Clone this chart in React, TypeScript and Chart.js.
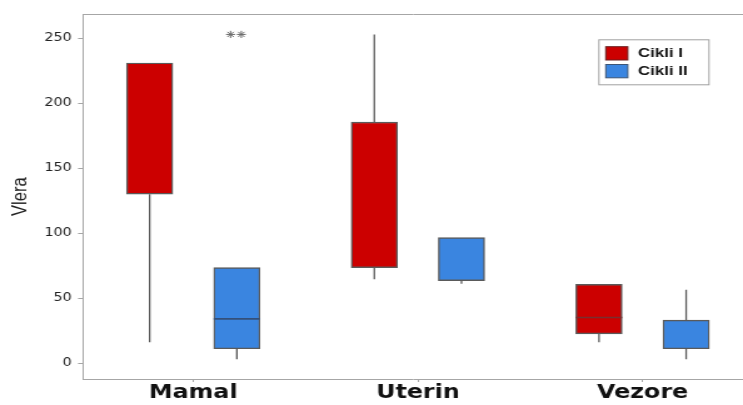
import React, { useEffect, useRef } from 'react';
import { Chart, registerables } from 'chart.js';

Chart.register(...registerables);

// ---- data ----
const categories = ['Mamal', 'Uterin', 'Vezore'];
const seriesNames = ['Cikli I', 'Cikli II'];
const yTickValues = [0, 50, 100, 150, 200, 250];

// Cikli I
const c1Min = [16, 64.5, 16];
const c1Q1 = [130, 73.5, 22.5];
const c1Median: (number | null)[] = [null, null, 35];
const c1Q3 = [231, 185.5, 60.5];
const c1Max = [231, 253, 60.5];
const c1Outliers: number[][] = [[], [], []];

// Cikli II
const c2Min = [3, 61, 3];
const c2Q1 = [11, 63.5, 11];
const c2Median: (number | null)[] = [34, null, null];
const c2Q3 = [73.5, 96.5, 33];
const c2Max = [73.5, 96.5, 56.5];
const c2Outliers: number[][] = [[253, 253], [], []];

// ---- layout / style constants ----
const STRETCH = 743 / 594; // reference is horizontally stretched
const CANVAS_W = 594;
const CANVAS_H = 405;
const OFFSET = 0.194; // series offset from category centre (axis units)
const BOX_PX = 37;
const BOX_HALF = 0.103; // half box width in axis units
const OUTLIER_JITTER = 0.024;
const RED = '#cc0000';
const BLUE = '#3a85e0';
const EDGE = '#5a5a5a';

const boxData = (q1: number[], q3: number[], off: number) =>
  q1.map((v, i) => ({ x: i + 1 + off, y: [v, q3[i]] }));

const whiskerData = (mn: number[], q1: number[], q3: number[], mx: number[], off: number) => {
  const pts: { x: number; y: number | null }[] = [];
  mn.forEach((v, i) => {
    const x = i + 1 + off;
    if (v < q1[i]) pts.push({ x, y: v }, { x, y: q1[i] }, { x, y: null });
    if (mx[i] > q3[i]) pts.push({ x, y: q3[i] }, { x, y: mx[i] }, { x, y: null });
  });
  return pts;
};

const medianData = (md: (number | null)[], off: number) => {
  const pts: { x: number; y: number | null }[] = [];
  md.forEach((v, i) => {
    if (v === null) return;
    const x = i + 1 + off;
    pts.push({ x: x - BOX_HALF, y: v }, { x: x + BOX_HALF, y: v }, { x, y: null });
  });
  return pts;
};

const outlierData = (out: number[][], off: number) => {
  const pts: { x: number; y: number }[] = [];
  out.forEach((list, i) => {
    list.forEach((v, j) => {
      const shift = list.length > 1 ? (j - (list.length - 1) / 2) * 2 * OUTLIER_JITTER : 0;
      pts.push({ x: i + 1 + off + shift - 0.004, y: v });
    });
  });
  return pts;
};

const legendPlugin = {
  id: 'boxLegend',
  afterDraw(chart: any) {
    const ctx = chart.ctx as CanvasRenderingContext2D;
    const { right, top } = chart.chartArea;
    const x0 = right - 115.7;
    const y0 = top + 25;
    const w = 88;
    const h = 45;
    ctx.save();
    ctx.fillStyle = '#ffffff';
    ctx.fillRect(x0, y0, w, h);
    ctx.strokeStyle = '#a0a0a0';
    ctx.lineWidth = 1;
    ctx.strokeRect(x0 + 0.5, y0 + 0.5, w, h);
    const items = [
      { label: seriesNames[0], fill: RED, edge: '#6a1f1f' },
      { label: seriesNames[1], fill: BLUE, edge: '#3d5575' },
    ];
    items.forEach((it, k) => {
      const sy = y0 + 7.4 + k * 17.8;
      ctx.fillStyle = it.fill;
      ctx.fillRect(x0 + 6, sy, 17.6, 13.3);
      ctx.strokeStyle = it.edge;
      ctx.lineWidth = 1;
      ctx.strokeRect(x0 + 6, sy, 17.6, 13.3);
      ctx.fillStyle = '#111';
      ctx.font = "bold 13.5px 'Liberation Sans', Arial, sans-serif";
      ctx.textBaseline = 'middle';
      ctx.textAlign = 'left';
      ctx.fillText(it.label, x0 + 31.7, sy + 7);
    });
    ctx.restore();
  },
};

export default function App() {
  const ref = useRef<HTMLCanvasElement | null>(null);

  useEffect(() => {
    if (!ref.current) return;
    const chart = new Chart(ref.current, {
      type: 'bar',
      data: {
        datasets: [
          {
            type: 'line',
            label: 'median I',
            data: medianData(c1Median, -OFFSET),
            borderColor: '#7a2e2e',
            borderWidth: 1.6,
            pointRadius: 0,
            spanGaps: false,
            fill: false,
          } as any,
          {
            type: 'line',
            label: 'median II',
            data: medianData(c2Median, OFFSET),
            borderColor: '#34507a',
            borderWidth: 1.6,
            pointRadius: 0,
            spanGaps: false,
            fill: false,
          } as any,
          {
            type: 'scatter',
            label: 'outliers',
            data: [...outlierData(c1Outliers, -OFFSET), ...outlierData(c2Outliers, OFFSET)],
            pointStyle: 'star',
            pointRadius: 3.6,
            borderColor: '#6a6a6a',
            borderWidth: 1,
          } as any,
          {
            type: 'line',
            label: 'whisker I',
            data: whiskerData(c1Min, c1Q1, c1Q3, c1Max, -OFFSET),
            borderColor: EDGE,
            borderWidth: 1.3,
            pointRadius: 0,
            spanGaps: false,
            fill: false,
          } as any,
          {
            type: 'line',
            label: 'whisker II',
            data: whiskerData(c2Min, c2Q1, c2Q3, c2Max, OFFSET),
            borderColor: EDGE,
            borderWidth: 1.3,
            pointRadius: 0,
            spanGaps: false,
            fill: false,
          } as any,
          {
            type: 'bar',
            label: seriesNames[0],
            data: boxData(c1Q1, c1Q3, -OFFSET),
            backgroundColor: RED,
            borderColor: EDGE,
            borderWidth: 1.4,
            borderSkipped: false,
            barThickness: BOX_PX,
            grouped: false,
          } as any,
          {
            type: 'bar',
            label: seriesNames[1],
            data: boxData(c2Q1, c2Q3, OFFSET),
            backgroundColor: BLUE,
            borderColor: EDGE,
            borderWidth: 1.4,
            borderSkipped: false,
            barThickness: BOX_PX,
            grouped: false,
          } as any,
        ],
      },
      options: {
        animation: false,
        responsive: false,
        devicePixelRatio: 1,
        layout: { autoPadding: false, padding: { top: 14.3, left: 0, right: 0, bottom: 0 } },
        plugins: {
          legend: { display: false },
          tooltip: { enabled: false },
        },
        scales: {
          x: {
            type: 'linear',
            position: 'bottom',
            offset: false,
            min: 0.5095,
            max: 3.447,
            grid: { display: true, offset: false, drawOnChartArea: false, drawTicks: true, tickLength: 3, color: '#a6a6a6' },
            border: { display: true, color: '#a6a6a6', width: 1 },
            ticks: {
              autoSkip: false,
              maxRotation: 0,
              padding: 0,
              color: '#111',
              font: { family: "'DejaVu Sans', Verdana, sans-serif", size: 19, weight: 'bold' },
              callback: (v: any) => categories[Math.round(Number(v)) - 1] ?? '',
            },
            afterBuildTicks: (scale: any) => {
              scale.ticks = categories.map((_, i) => ({ value: i + 1 }));
            },
            afterFit: (scale: any) => {
              scale.height = 26;
            },
          } as any,
          x2: {
            type: 'linear',
            position: 'top',
            display: true,
            offset: false,
            grid: { display: false },
            border: { display: true, color: '#a6a6a6', width: 1 },
            ticks: { display: false },
            afterFit: (scale: any) => {
              scale.height = 0;
            },
          } as any,
          y: {
            type: 'linear',
            position: 'left',
            min: -12.3,
            max: 268.5,
            grid: { display: true, drawOnChartArea: false, drawTicks: true, tickLength: 4, color: '#a6a6a6' },
            border: { display: true, color: '#a6a6a6', width: 1 },
            ticks: {
              padding: 5,
              color: '#222',
              font: { family: "'DejaVu Sans', Verdana, sans-serif", size: 11.5 },
            },
            afterBuildTicks: (scale: any) => {
              scale.ticks = yTickValues.map((v) => ({ value: v }));
            },
            afterFit: (scale: any) => {
              scale.width = 66.4;
            },
            title: {
              display: true,
              text: 'Vlera',
              color: '#222',
              padding: { top: 6.7, bottom: 0 },
              font: { family: "'Liberation Sans', Arial, sans-serif", size: 16.5 },
            },
          } as any,
        },
      } as any,
      plugins: [legendPlugin],
    });
    return () => chart.destroy();
  }, []);

  return (
    <div style={{ position: 'fixed', left: 0, top: 0, width: 743, height: 405, background: '#fff' }}>
      <canvas
        ref={ref}
        width={CANVAS_W}
        height={CANVAS_H}
        style={{ width: `${CANVAS_W * STRETCH}px`, height: `${CANVAS_H}px`, display: 'block' }}
      />
    </div>
  );
}
